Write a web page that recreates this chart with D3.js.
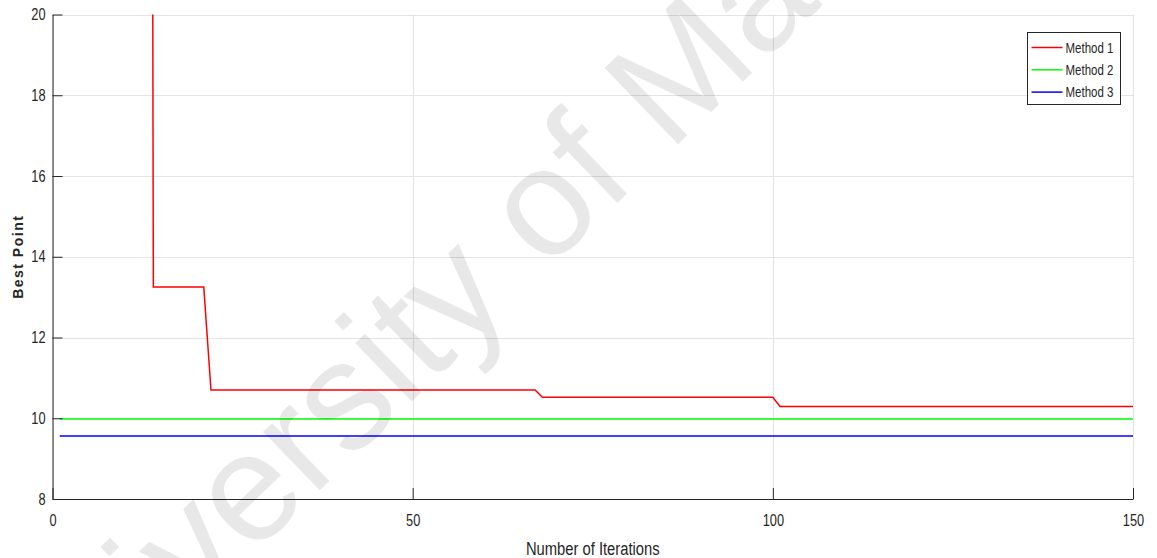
<!DOCTYPE html>
<html>
<head>
<meta charset="utf-8">
<script src="https://cdn.jsdelivr.net/npm/d3@7"></script>
<style>
    body { margin: 0; background: #fff; }
    text { font-family: "Liberation Sans", Arial, sans-serif; }
</style>
</head>
<body>
<svg id="plot" width="1157" height="558"></svg>
<script>
// iteration breakpoints (steps between them are straight)
var method1Iter = [1, 13, 14, 21, 22, 67, 68, 100, 101, 150];
var method1Vals = [100, 100, 13.25, 13.25, 10.70, 10.70, 10.52, 10.52, 10.29, 10.29];
var method2Iter = [1, 150];
var method2Vals = [9.98, 9.98];
var method3Iter = [1, 150];
var method3Vals = [9.56, 9.56];

var seriesNames = ["Method 1", "Method 2", "Method 3"];
var seriesColors = ["#ff0000", "#00ff00", "#0000ff"];
var xTicks = [0, 50, 100, 150];
var yTicks = [8, 10, 12, 14, 16, 18, 20];

var svg = d3.select("#plot"),
    width = +svg.attr("width"),
    height = +svg.attr("height");

var margin = {t: 14.5, r: 24, b: 59, l: 52.5};

var x = d3.scaleLinear().domain([0, 150]).range([margin.l, width - margin.r]);
var y = d3.scaleLinear().domain([8, 20]).range([height - margin.b, margin.t]);

// the figure's font is a narrow helvetica, squeeze the text to match
function narrow(sel, k) {
    sel.each(function () {
        var w = this.getComputedTextLength();
        d3.select(this)
            .attr("textLength", w * k)
            .attr("lengthAdjust", "spacingAndGlyphs");
    });
}

// grid
svg.append("g")
    .selectAll("line")
    .data(yTicks)
    .enter().append("line")
    .attr("x1", x(0))
    .attr("x2", x(150))
    .attr("y1", function (d) { return Math.round(y(d)) + 0.5; })
    .attr("y2", function (d) { return Math.round(y(d)) + 0.5; })
    .attr("stroke", "#e3e3e3")
    .attr("stroke-width", 1);

svg.append("g")
    .selectAll("line")
    .data(xTicks)
    .enter().append("line")
    .attr("x1", function (d) { return Math.round(x(d)) + 0.5; })
    .attr("x2", function (d) { return Math.round(x(d)) + 0.5; })
    .attr("y1", y(8))
    .attr("y2", y(20))
    .attr("stroke", "#e3e3e3")
    .attr("stroke-width", 1);

// lines, clipped to the axes box
svg.append("clipPath")
    .attr("id", "clip")
    .append("rect")
    .attr("x", x(0))
    .attr("y", y(20))
    .attr("width", x(150) - x(0))
    .attr("height", y(8) - y(20));

var line = d3.line()
    .x(function (d) { return x(d[0]); })
    .y(function (d) { return y(d[1]); });

var series = [
    d3.zip(method1Iter, method1Vals),
    d3.zip(method2Iter, method2Vals),
    d3.zip(method3Iter, method3Vals)
];

svg.append("g")
    .attr("clip-path", "url(#clip)")
    .selectAll("path")
    .data(series)
    .enter().append("path")
    .attr("d", line)
    .attr("fill", "none")
    .attr("stroke", function (d, i) { return seriesColors[i]; })
    .attr("stroke-width", 1.5);

// axes, ticks pointing inwards like matlab
var xAxis = svg.append("g")
    .attr("transform", "translate(0," + y(8) + ")")
    .call(d3.axisBottom(x).tickValues(xTicks).tickSizeInner(-11).tickSizeOuter(0).tickPadding(16));

var yAxis = svg.append("g")
    .attr("transform", "translate(" + x(0) + ",0)")
    .call(d3.axisLeft(y).tickValues(yTicks).tickSizeInner(-10).tickSizeOuter(0).tickPadding(7));

[xAxis, yAxis].forEach(function (ax) {
    ax.select(".domain").attr("stroke", "#262626");
    ax.selectAll(".tick line").attr("stroke", "#262626");
    ax.selectAll(".tick text")
        .attr("fill", "#262626")
        .style("font-family", "'Liberation Sans', Arial, sans-serif")
        .style("font-size", "16px")
        .call(narrow, 0.8);
});

svg.append("text")
    .attr("x", (x(0) + x(150)) / 2)
    .attr("y", 555)
    .attr("text-anchor", "middle")
    .attr("fill", "#262626")
    .style("font-size", "18px")
    .text("Number of Iterations")
    .call(narrow, 0.82);

svg.append("text")
    .attr("transform", "translate(23," + (y(8) + y(20)) / 2 + ") rotate(-90)")
    .attr("text-anchor", "middle")
    .attr("fill", "#262626")
    .style("font-size", "14px")
    .style("font-weight", "bold")
    .style("letter-spacing", "1.5px")
    .text("Best Point");

// legend
var legend = svg.append("g").attr("transform", "translate(1027.5,32.5)");

legend.append("rect")
    .attr("width", 93)
    .attr("height", 72)
    .attr("fill", "#fff")
    .attr("stroke", "#262626")
    .attr("stroke-width", 1);

var rows = legend.selectAll(".row")
    .data(seriesNames)
    .enter().append("g")
    .attr("class", "row")
    .attr("transform", function (d, i) { return "translate(0," + (15 + i * 22.3) + ")"; });

rows.append("line")
    .attr("x1", 4)
    .attr("x2", 35)
    .attr("stroke", function (d, i) { return seriesColors[i]; })
    .attr("stroke-width", 1.5);

rows.append("text")
    .attr("x", 38)
    .attr("dy", "0.36em")
    .attr("fill", "#262626")
    .style("font-size", "14px")
    .text(function (d) { return d; })
    .call(narrow, 0.82);

// faint watermark across the plot
var wm = svg.append("text")
    .attr("transform", "translate(669,153) rotate(-44)")
    .attr("fill", "#000")
    .attr("fill-opacity", 0.09)
    .style("font-size", "154px")
    .text("University of Ma");
var off = wm.node().getSubStringLength(0, 14);
wm.attr("x", -off);
</script>
</body>
</html>
